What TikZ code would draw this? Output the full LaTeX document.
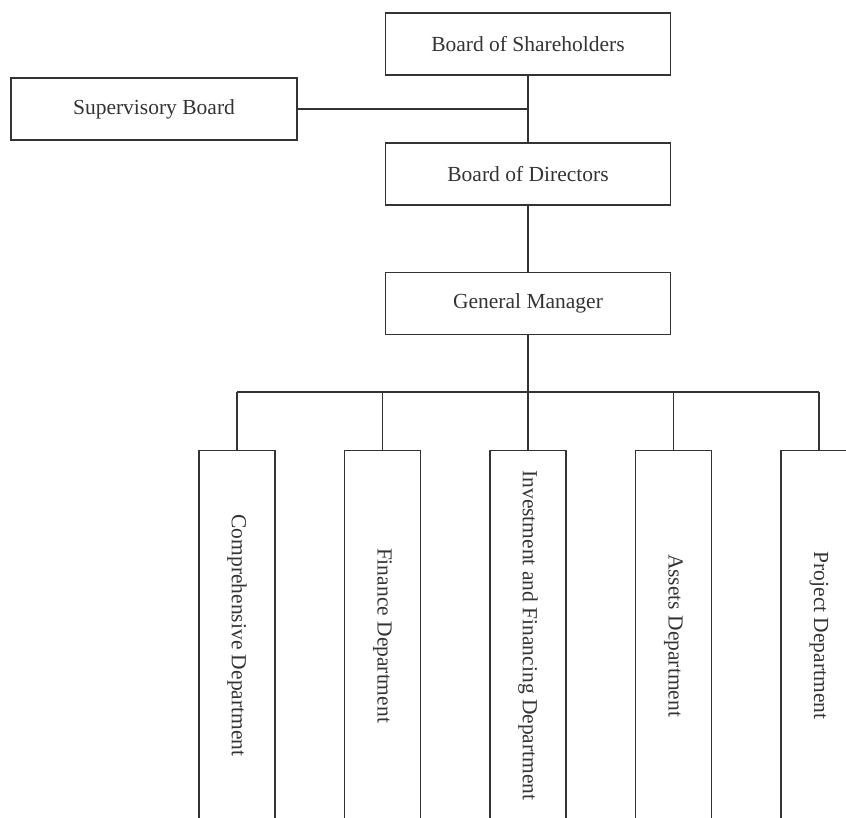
\documentclass[tikz,border=0pt]{standalone}
\usepackage{fontspec}
\setmainfont{Liberation Serif}
\definecolor{ink}{HTML}{333333}
\begin{document}
\begin{tikzpicture}[x=1pt,y=-1pt,
  conn/.style={line width=1.1pt, draw=ink},
  box/.style={draw=ink, line width=1.1pt, rectangle, inner sep=0pt,
    minimum width=285pt, minimum height=62pt,
    font=\fontsize{21.5}{24}\selectfont, text=ink},
  dept/.style={draw=ink, line width=1.1pt, rectangle, inner sep=0pt,
    rotate=-90, minimum width=370pt, minimum height=76pt,
    font=\fontsize{21.5}{24}\selectfont, text=ink}]
\useasboundingbox (0,0) rectangle (846,818);
\clip (0,0) rectangle (846,818);
\node[box] (sh) at (528,44) {Board of Shareholders};
\node[box, minimum width=286pt] (sup) at (154,109) {Supervisory Board};
\node[box] (bod) at (528,174) {Board of Directors};
\node[box] (gm) at (528,303.5) {General Manager};
\coordinate (bus) at (528,392);
\node[dept] (d1) at (237,635.5) {Comprehensive Department};
\node[dept] (d2) at (382.5,635.5) {Finance Department};
\node[dept] (d3) at (528,635.5) {Investment and Financing Department};
\node[dept] (d4) at (673.5,635.5) {Assets Department};
\node[dept] (d5) at (819,635.5) {Project Department};
\draw[conn] (sh.south) -- (bod.north);
\draw[conn] (sup.east) -- (sup.east -| sh.south);
\draw[conn] (bod.south) -- (gm.north);
\draw[conn] (gm.south) -- (bus);
\draw[conn] (d1.west |- bus) -- (d5.west |- bus);
\foreach \d in {d1,d2,d3,d4,d5} {\draw[conn] (\d.west) -- (\d.west |- bus);}
\end{tikzpicture}
\end{document}
